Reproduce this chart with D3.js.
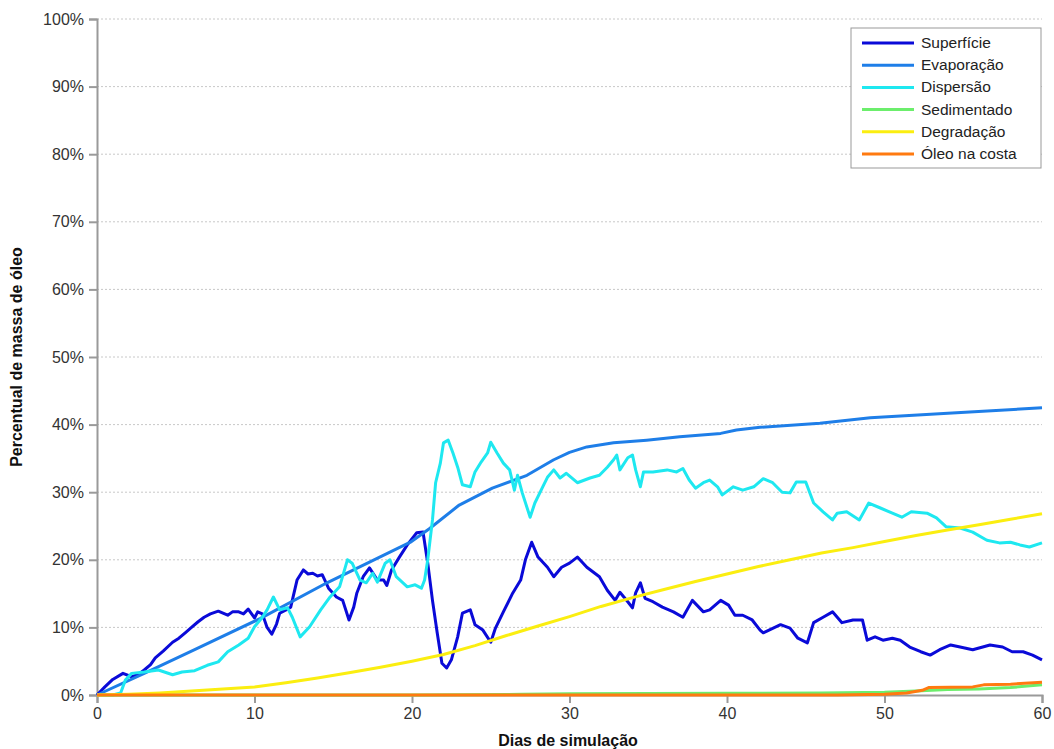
<!DOCTYPE html>
<html>
<head>
<meta charset="utf-8">
<script src="https://cdn.jsdelivr.net/npm/d3@7"></script>
<style>
  html, body { margin: 0; padding: 0; background: #fff; }
  svg { display: block; font-family: "Liberation Sans", Arial, sans-serif; }
</style>
</head>
<body>
<svg id="chart" width="1054" height="749"></svg>
<script>
// Oil mass balance over the simulation period (% of spilled mass)
const xTicks = [0, 10, 20, 30, 40, 50, 60];
const yTicks = [0, 10, 20, 30, 40, 50, 60, 70, 80, 90, 100];

const superficieDays = [0,0.5,1.0,1.65,2.2,2.6,3.0,3.4,3.7,4.2,4.8,5.2,5.6,6.0,6.4,6.8,7.2,7.7,8.0,8.3,8.6,9.0,9.3,9.6,10.0,10.2,10.5,10.8,11.1,11.4,11.6,12.0,12.3,12.7,13.1,13.4,13.7,14.0,14.3,14.7,15.2,15.6,16.0,16.3,16.5,16.9,17.3,17.8,18.2,18.4,18.7,19.2,19.7,20.3,20.7,21.0,21.3,21.6,21.9,22.2,22.5,22.9,23.2,23.7,24.0,24.5,25.0,25.3,25.8,26.4,26.9,27.2,27.6,28.0,28.6,29.0,29.5,30.0,30.5,31.1,31.9,32.4,32.9,33.2,33.7,34.0,34.2,34.5,34.8,35.3,35.9,36.6,37.2,37.8,38.5,38.9,39.6,40.1,40.5,41.0,41.6,42.1,42.3,43.4,44.0,44.5,45.1,45.5,46.1,46.7,47.3,48.0,48.6,48.9,49.4,49.9,50.5,51.0,51.6,52.3,52.9,53.5,54.2,54.8,55.6,56.7,57.5,58.1,58.8,59.4,60];
const superficieValues = [0,1.2,2.3,3.2,2.7,3.0,3.7,4.5,5.5,6.5,7.8,8.4,9.2,10.0,10.8,11.5,12.0,12.4,12.1,11.8,12.3,12.3,12.0,12.7,11.4,12.3,12.0,10.0,9.0,10.5,12.1,12.6,13.0,17.0,18.5,17.9,18.0,17.6,17.8,15.8,14.5,14.0,11.1,13.0,15.1,17.5,18.8,17.0,17.0,16.2,18.5,20.4,22.2,24.0,24.1,19.5,14.0,9.2,4.7,4.0,5.2,8.6,12.1,12.6,10.4,9.6,7.8,9.9,12.3,15.1,17.0,20.0,22.6,20.4,18.9,17.5,18.9,19.5,20.4,18.9,17.5,15.5,14.0,15.2,13.8,12.9,15.1,16.6,14.3,13.8,13.0,12.3,11.5,14.0,12.3,12.6,14.0,13.3,11.8,11.8,11.1,9.6,9.2,10.4,9.9,8.4,7.7,10.7,11.5,12.3,10.7,11.1,11.1,8.1,8.6,8.1,8.4,8.1,7.1,6.4,5.9,6.7,7.4,7.1,6.7,7.4,7.1,6.4,6.4,5.9,5.2];

const evaporacaoDays = [0,3.0,6.2,10.35,14.6,19.9,21.1,23.0,25.1,27.3,29.0,30.0,31.1,32.8,34.9,37.0,39.6,40.6,42.1,45.9,49.1,54.3,60];
const evaporacaoValues = [0,3.2,6.7,11.3,16.6,22.6,24.6,28.1,30.6,32.5,34.8,35.9,36.7,37.3,37.7,38.2,38.7,39.2,39.6,40.2,41.0,41.7,42.5];

const dispersaoDays = [0,1.0,1.5,1.8,2.2,3.0,3.9,4.8,5.4,6.2,7.0,7.7,8.3,9.0,9.6,10.0,10.5,10.8,11.2,11.6,12.1,12.4,12.9,13.5,14.2,14.8,15.4,15.9,16.2,16.7,17.1,17.5,17.8,18.3,18.6,19.0,19.7,20.2,20.6,20.8,21.0,21.3,21.5,21.8,22.0,22.3,22.6,22.9,23.2,23.7,24.0,24.4,24.8,25.0,25.4,25.8,26.2,26.5,26.7,27.0,27.5,27.8,28.3,28.6,29.0,29.4,29.8,30.5,31.3,31.9,32.4,32.8,33.0,33.2,33.7,34.0,34.2,34.5,34.7,35.3,36.2,36.8,37.2,37.6,38.0,38.5,38.9,39.4,39.7,40.4,41.0,41.7,42.3,42.9,43.5,44.0,44.4,45.0,45.5,46.1,46.7,47.0,47.6,48.4,49.0,49.7,50.5,51.1,51.7,52.7,53.3,53.9,54.8,55.6,56.5,57.3,58.0,58.6,59.2,60];
const dispersaoValues = [0,0,0.3,2.2,3.2,3.4,3.7,3.0,3.4,3.6,4.4,4.9,6.4,7.4,8.4,10.1,11.5,12.6,14.5,12.6,12.9,11.5,8.6,10.1,12.6,14.5,16.0,20.0,19.5,17.0,16.6,18.0,16.7,19.5,20.0,17.5,16.0,16.3,15.8,17.0,20.0,25.9,31.4,34.3,37.3,37.7,35.8,33.7,31.1,30.8,33.0,34.5,35.8,37.4,35.8,34.3,33.3,30.3,32.5,29.9,26.3,28.4,30.8,32.2,33.3,32.1,32.8,31.4,32.1,32.5,33.7,34.8,35.5,33.3,35.1,35.5,33.3,30.8,33.0,33.0,33.3,33.0,33.5,31.8,30.6,31.4,31.8,30.8,29.6,30.8,30.3,30.8,32.0,31.4,30.0,29.9,31.5,31.5,28.4,27.1,25.9,26.9,27.1,25.9,28.4,27.7,26.9,26.3,27.1,26.9,26.2,24.9,24.7,24.1,22.9,22.5,22.6,22.2,21.9,22.5];

const sedimentadoDays = [0,20,27,30,40,46,50,52,54,56,58,60];
const sedimentadoValues = [0,0,0.1,0.2,0.25,0.3,0.4,0.6,0.8,0.9,1.1,1.5];

const degradacaoDays = [0,2,4,6,8,10,12,14,16,18,20,22,24,26,28,30,32,34,36,38,40,42,44,46,48,50,52,54,56,58,60];
const degradacaoValues = [0,0.1,0.3,0.6,0.9,1.2,1.8,2.5,3.3,4.1,5.0,6.0,7.3,8.8,10.2,11.6,13.1,14.4,15.6,16.8,17.9,19.0,20.0,21.0,21.8,22.7,23.6,24.4,25.2,26.0,26.8];

const costaDays = [0,47,50,51.4,52.4,52.8,55.6,56.3,58,60];
const costaValues = [0,0,0.1,0.3,0.7,1.1,1.2,1.5,1.6,1.9];

const seriesNames = ["Superfície", "Evaporação", "Dispersão", "Sedimentado", "Degradação", "Óleo na costa"];
const seriesColors = ["#0a0ad8", "#1e7ee8", "#1ee8f0", "#6cee6c", "#fbee10", "#ff7a10"];
const seriesDays = [superficieDays, evaporacaoDays, dispersaoDays, sedimentadoDays, degradacaoDays, costaDays];
const seriesValues = [superficieValues, evaporacaoValues, dispersaoValues, sedimentadoValues, degradacaoValues, costaValues];

const svg = d3.select("#chart");
const margin = { left: 97, right: 12, top: 19, bottom: 54 };
const W = 1054, H = 749;

const x = d3.scaleLinear().domain([0, 60]).range([margin.left, W - margin.right]);
const y = d3.scaleLinear().domain([0, 100]).range([H - margin.bottom, margin.top]);

// dotted horizontal grid
svg.append("g")
  .selectAll("line")
  .data(yTicks.filter(t => t > 0))
  .join("line")
  .attr("x1", x(0)).attr("x2", x(60))
  .attr("y1", d => y(d)).attr("y2", d => y(d))
  .attr("stroke", "#c8c8c8")
  .attr("stroke-width", 1)
  .attr("stroke-dasharray", "2,2");

// axes
const yAxis = svg.append("g")
  .attr("transform", `translate(${x(0)},0)`)
  .call(d3.axisLeft(y).tickValues(yTicks).tickFormat(d => d + "%").tickSize(8).tickPadding(5));
const xAxis = svg.append("g")
  .attr("transform", `translate(0,${y(0)})`)
  .call(d3.axisBottom(x).tickValues(xTicks).tickFormat(d3.format("d")).tickSize(8).tickPadding(5));

[yAxis, xAxis].forEach(a => {
  a.select(".domain").attr("stroke", "#9a9a9a").attr("stroke-width", 2);
  a.selectAll(".tick line").attr("stroke", "#9a9a9a").attr("stroke-width", 2);
  a.selectAll(".tick text").attr("fill", "#333").style("font-size", "16px")
    .style("font-family", "'Liberation Sans', Arial, sans-serif");
});

// series lines
const line = d3.line().x(d => x(d[0])).y(d => y(d[1]));
seriesNames.forEach((name, i) => {
  const pts = seriesDays[i].map((d, j) => [d, seriesValues[i][j]]);
  svg.append("path")
    .datum(pts)
    .attr("fill", "none")
    .attr("stroke", seriesColors[i])
    .attr("stroke-width", 3)
    .attr("stroke-linejoin", "round")
    .attr("d", line);
});

// axis titles
svg.append("text")
  .attr("x", 568).attr("y", 746)
  .attr("text-anchor", "middle")
  .style("font-size", "16px").style("font-weight", "bold").attr("fill", "#111")
  .text("Dias de simulação");
svg.append("text")
  .attr("transform", `translate(22,357) rotate(-90)`)
  .attr("text-anchor", "middle")
  .style("font-size", "16px").style("font-weight", "bold").attr("fill", "#111")
  .text("Percentual de massa de óleo");

// legend
const lg = svg.append("g").attr("transform", "translate(851,28)");
lg.append("rect").attr("width", 190).attr("height", 140)
  .attr("fill", "#fff").attr("stroke", "#999").attr("stroke-width", 1);
seriesNames.forEach((name, i) => {
  const yy = 15 + i * 22.2;
  lg.append("line").attr("x1", 11).attr("x2", 63).attr("y1", yy).attr("y2", yy)
    .attr("stroke", seriesColors[i]).attr("stroke-width", 3);
  lg.append("text").attr("x", 70).attr("y", yy + 5)
    .style("font-size", "15.5px").attr("fill", "#222").text(name);
});
</script>
</body>
</html>
